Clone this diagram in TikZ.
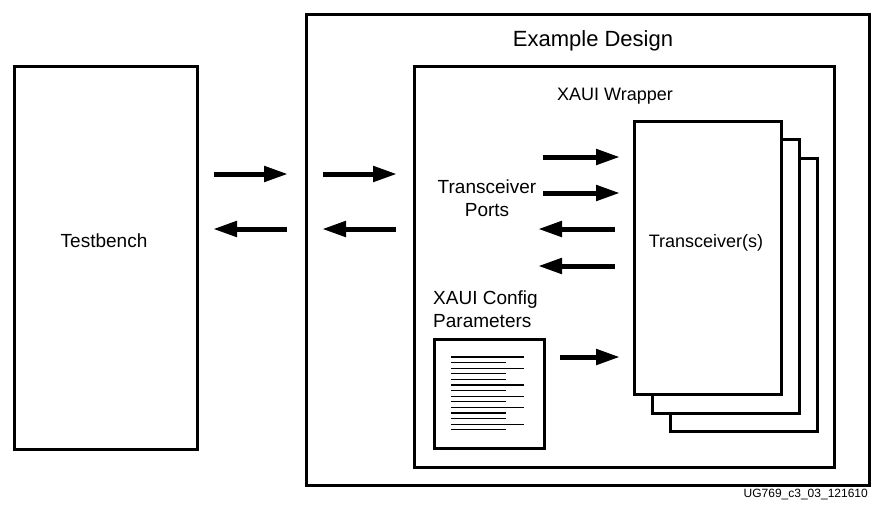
\documentclass[tikz,border=0pt]{standalone}
\usepackage{fontspec}
\setmainfont{Liberation Sans}
\usetikzlibrary{arrows.meta}

\begin{document}
\begin{tikzpicture}[x=1pt, y=-1pt,
  box/.style={draw, line width=2.5pt, fill=white, inner sep=0pt, anchor=north west},
  flow/.style={line width=5pt, -{Triangle[length=24pt,width=15pt]}},
  lbl/.style={inner sep=0pt, font=\fontsize{19}{23}\selectfont}]
\useasboundingbox (0,0) rectangle (872,504);

% outer blocks
\node (tb) at (13,65) [box, minimum width=183pt, minimum height=383pt] {};
\node (ed) at (305,13) [box, minimum width=563pt, minimum height=471pt] {};
\node (wr) at (413,65) [box, minimum width=420pt, minimum height=401pt] {};

% transceiver stack
\node (t3) at (669,157) [box, minimum width=147pt, minimum height=273pt] {};
\node (t2) at (651,138) [box, minimum width=147pt, minimum height=274pt] {};
\node (t1) at (633,120) [box, minimum width=147pt, minimum height=273pt] {};

% labels
\node (tbl) at (104,241) [lbl] {Testbench};
\node (edl) at (593,41) [lbl, font=\fontsize{22}{26}\selectfont] {Example Design};
\node (wrl) at (615,96) [lbl, font=\fontsize{18}{22}\selectfont] {XAUI Wrapper};
\node (t1l) at (706,243) [lbl, font=\fontsize{18}{22}\selectfont] {Transceiver(s)};
\node (tpl) at (487,198) [lbl, align=center] {Transceiver\\Ports};
\node (cfl) at (433,309) [lbl, align=left, anchor=west] {XAUI Config\\Parameters};
\node (ug) at (868,494) [inner sep=0pt, anchor=east, font=\fontsize{12}{14}\selectfont] {UG769\_c3\_03\_121610};

% config document
\node (doc) at (433,338) [box, minimum width=110pt, minimum height=109pt] {};
\foreach \y/\x [count=\i] in {357/524, 362.6/506, 368.2/524, 373.8/506, 379.4/506,
    385/524, 390.6/506, 396.2/524, 401.8/506, 407.4/524, 413/506, 418.6/506,
    424.2/524, 429.8/506}
  \draw[line width=1.2pt] (451,\y) -- (\x,\y);

% arrow end points
\coordinate (a1) at (214,174); \coordinate (b1) at (288,174);
\coordinate (a2) at (323,174); \coordinate (b2) at (397,174);
\coordinate (a3) at (287,229); \coordinate (b3) at (213,229);
\coordinate (a4) at (396,229); \coordinate (b4) at (322,229);
\coordinate (c1) at (543,157); \coordinate (d1) at (620,157);
\coordinate (c2) at (543,193); \coordinate (d2) at (620,193);
\coordinate (c3) at (615,229); \coordinate (d3) at (538,229);
\coordinate (c4) at (615,266); \coordinate (d4) at (538,266);
\coordinate (c5) at (560,357); \coordinate (d5) at (620,357);

\draw[flow] (a1) to (b1);
\draw[flow] (a2) to (b2);
\draw[flow] (a3) to (b3);
\draw[flow] (a4) to (b4);
\draw[flow] (c1) to (d1);
\draw[flow] (c2) to (d2);
\draw[flow] (c3) to (d3);
\draw[flow] (c4) to (d4);
\draw[flow] (c5) to (d5);
\end{tikzpicture}
\end{document}
